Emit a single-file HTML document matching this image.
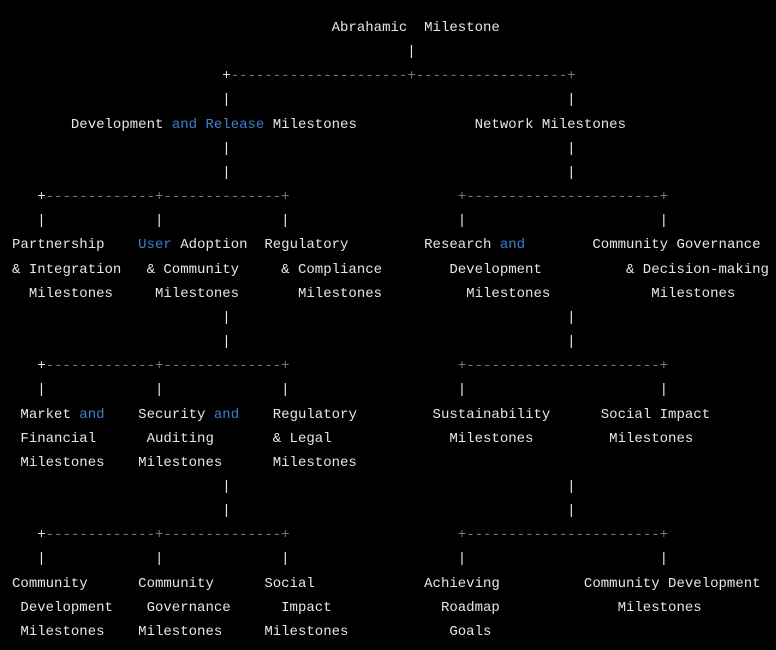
<!DOCTYPE html>
<html><head><meta charset="utf-8"><style>
html,body{margin:0;padding:0;background:#000;width:776px;height:650px;overflow:hidden}
pre{position:absolute;left:12px;top:16px;margin:0;font-family:"Liberation Mono",monospace;font-size:14.02px;line-height:24.15px;color:#e6e6e6;white-space:pre}
.b{color:#3d7fcf}
.d{color:#7a7a7a}
</style></head><body><pre>                                      Abrahamic  Milestone
                                               |
                         +<span class="d">---------------------+------------------+</span>
                         |                                        |
       Development <span class="b">and Release</span> Milestones              Network Milestones
                         |                                        |
                         |                                        |
   +<span class="d">-------------+--------------+</span>                    <span class="d">+-----------------------+</span>
   |             |              |                    |                       |
Partnership    <span class="b">User</span> Adoption  Regulatory         Research <span class="b">and</span>        Community Governance
&amp; Integration   &amp; Community     &amp; Compliance        Development          &amp; Decision-making
  Milestones     Milestones       Milestones          Milestones            Milestones
                         |                                        |
                         |                                        |
   +<span class="d">-------------+--------------+</span>                    <span class="d">+-----------------------+</span>
   |             |              |                    |                       |
 Market <span class="b">and</span>    Security <span class="b">and</span>    Regulatory         Sustainability      Social Impact
 Financial      Auditing       &amp; Legal              Milestones         Milestones
 Milestones    Milestones      Milestones
                         |                                        |
                         |                                        |
   +<span class="d">-------------+--------------+</span>                    <span class="d">+-----------------------+</span>
   |             |              |                    |                       |
Community      Community      Social             Achieving          Community Development
 Development    Governance      Impact             Roadmap              Milestones
 Milestones    Milestones     Milestones            Goals
</pre></body></html>
